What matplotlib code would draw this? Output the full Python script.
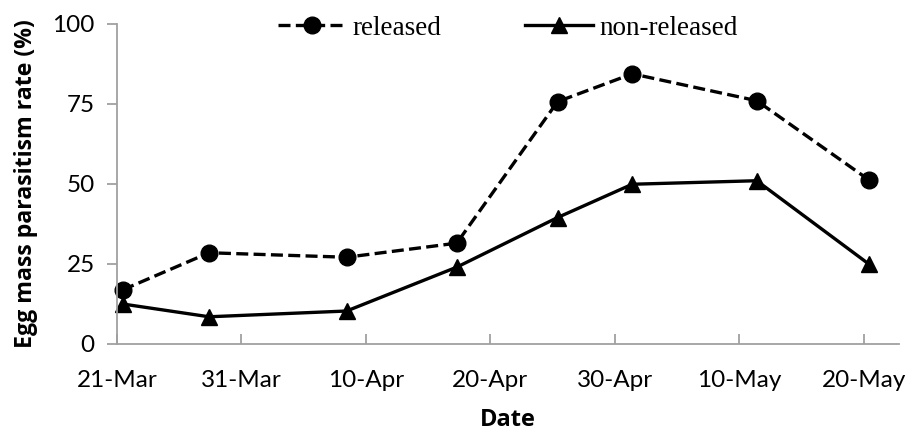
import matplotlib
matplotlib.use("Agg")
import matplotlib.pyplot as plt

# Days after 21-Mar for each sampling date
days = [0.45, 7.4, 18.45, 27.3, 35.4, 41.4, 51.4, 60.4]
released = [16.9, 28.5, 27.1, 31.5, 75.7, 84.4, 76.0, 51.3]
non_released = [12.5, 8.5, 10.3, 24.0, 39.5, 49.9, 51.0, 25.0]

tick_days = [0, 10, 20, 30, 40, 50, 60]
tick_labels = ["21-Mar", "31-Mar", "10-Apr", "20-Apr", "30-Apr", "10-May", "20-May"]
y_ticks = [0, 25, 50, 75, 100]

fig = plt.figure(figsize=(9.16, 4.34), dpi=100)
ax = fig.add_axes([0.1277, 0.2074, 0.8533, 0.7376])

ax.plot(days, released, color="black", lw=2.4, ls=(0, (3.6, 1.6)),
        marker="o", ms=12, label="released")
ax.plot(days, non_released, color="black", lw=2.4, ls="-",
        marker="^", ms=12, label="non-released")

ax.set_xlim(0, 62.8)
ax.set_ylim(0, 100)
ax.set_xticks(tick_days)
ax.set_xticklabels(tick_labels)
ax.set_yticks(y_ticks)

tick_font = "Lato"
for lab in ax.get_xticklabels() + ax.get_yticklabels():
    lab.set_fontfamily(tick_font)
    lab.set_fontsize(17.5)

for s in ["top", "right"]:
    ax.spines[s].set_visible(False)
for s in ["left", "bottom"]:
    ax.spines[s].set_color("#a0a0a0")
    ax.spines[s].set_linewidth(1.3)

ax.tick_params(axis="x", direction="in", length=7, width=1.3, color="#a0a0a0", pad=19)
ax.tick_params(axis="y", direction="out", length=7, width=1.3, color="#a0a0a0", pad=9)

ax.set_xlabel("Date", fontfamily="Open Sans", fontweight="bold", fontsize=17, labelpad=12)
ax.set_ylabel("Egg mass parasitism rate (%)", fontfamily="Open Sans", fontweight="bold",
              fontsize=16.7, labelpad=10)

leg = ax.legend(loc="upper center", bbox_to_anchor=(0.5, 1.085), ncol=2, frameon=False,
                prop={"family": "Liberation Serif", "size": 19.5}, handlelength=2.5,
                handletextpad=0.25, columnspacing=3.1, borderpad=0.2)

for line in ax.get_lines():
    line.set_clip_on(False)

fig.savefig("out.png", dpi=100)
